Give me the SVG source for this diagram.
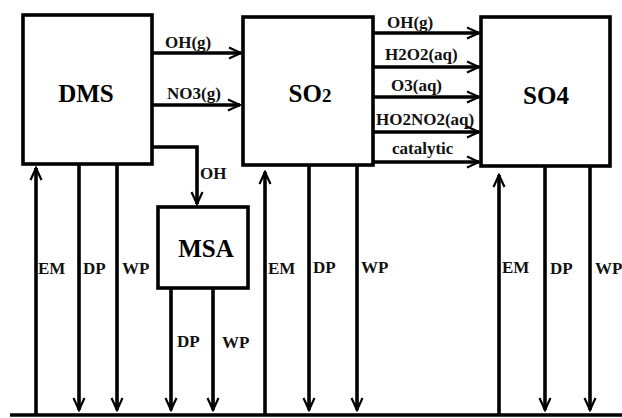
<svg xmlns="http://www.w3.org/2000/svg" width="622" height="418" viewBox="0 0 622 418">
  <style>
    .box { fill: #fff; stroke: #000; stroke-width: 3.6; }
    .title { font-family: "Liberation Serif", "Times New Roman", serif; font-weight: bold; font-size: 25px; fill: #000; text-anchor: middle; }
    .lbl { font-family: "Liberation Serif", "Times New Roman", serif; font-weight: bold; font-size: 17px; fill: #111; }
    .flow { fill: none; stroke: #000; stroke-width: 3.6; }
    .flowhead { fill: none; stroke: #000; stroke-width: 3.6; marker-end: url(#chev); }
  </style>
  <defs>
    <marker id="chev" markerUnits="userSpaceOnUse" viewBox="-14 -8 16 16" refX="0" refY="0" markerWidth="16" markerHeight="16" orient="auto">
      <polyline points="-12,-5.5 0,0 -12,5.5" fill="none" stroke="#000" stroke-width="2.2" stroke-linejoin="miter"/>
    </marker>
  </defs>

  <rect width="622" height="418" fill="#fff"/>

  <!-- species boxes -->
  <g id="dms">
    <rect class="box" x="23" y="15" width="129" height="149"/>
    <text class="title" x="86" y="102">DMS</text>
  </g>
  <g id="so2">
    <rect class="box" x="243" y="17" width="130" height="148"/>
    <text class="title" x="310" y="102">SO<tspan font-size="19">2</tspan></text>
  </g>
  <g id="so4">
    <rect class="box" x="481" y="17" width="129" height="149"/>
    <text class="title" x="546" y="104">SO4</text>
  </g>
  <g id="msa">
    <rect class="box" x="158" y="207" width="90" height="81"/>
    <text class="title" x="206" y="257">MSA</text>
  </g>

  <!-- fluxes between species, emission, deposition -->
  <g id="connectors">
    <!-- ground surface -->
    <line class="flow" x1="10" y1="415" x2="622" y2="415" stroke-width="4"/>

    <!-- DMS oxidation -->
    <line class="flowhead" x1="152" y1="53" x2="241" y2="53"/>
    <text class="lbl" x="165" y="48">OH(g)</text>
    <line class="flowhead" x1="152" y1="105" x2="240" y2="105"/>
    <text class="lbl" x="167" y="99">NO3(g)</text>
    <polyline class="flowhead" points="152,147 197,147 197,204"/>
    <text class="lbl" x="200" y="179">OH</text>

    <!-- SO2 oxidation pathways -->
    <line class="flowhead" x1="373" y1="33" x2="479" y2="33"/>
    <text class="lbl" x="387" y="28">OH(g)</text>
    <line class="flowhead" x1="373" y1="67" x2="479" y2="67"/>
    <text class="lbl" x="385" y="60">H2O2(aq)</text>
    <line class="flowhead" x1="373" y1="97" x2="479" y2="97"/>
    <text class="lbl" x="391" y="91">O3(aq)</text>
    <line class="flowhead" x1="373" y1="132" x2="479" y2="132"/>
    <text class="lbl" x="376" y="125">HO2NO2(aq)</text>
    <line class="flowhead" x1="373" y1="162" x2="479" y2="162"/>
    <text class="lbl" x="392" y="154">catalytic</text>

    <!-- DMS surface exchange -->
    <line class="flowhead" x1="36" y1="415" x2="36" y2="168"/>
    <text class="lbl" x="38" y="274">EM</text>
    <line class="flowhead" x1="79" y1="164" x2="79" y2="410"/>
    <text class="lbl" x="83" y="274">DP</text>
    <line class="flowhead" x1="117" y1="164" x2="117" y2="410"/>
    <text class="lbl" x="122" y="274">WP</text>

    <!-- MSA deposition -->
    <line class="flowhead" x1="171" y1="288" x2="171" y2="410"/>
    <text class="lbl" x="177" y="347">DP</text>
    <line class="flowhead" x1="213" y1="288" x2="213" y2="410"/>
    <text class="lbl" x="222" y="348">WP</text>

    <!-- SO2 surface exchange -->
    <line class="flowhead" x1="265" y1="415" x2="265" y2="172"/>
    <text class="lbl" x="268" y="274">EM</text>
    <line class="flowhead" x1="309" y1="165" x2="309" y2="410"/>
    <text class="lbl" x="313" y="273">DP</text>
    <line class="flowhead" x1="357" y1="165" x2="357" y2="410"/>
    <text class="lbl" x="361" y="273">WP</text>

    <!-- SO4 surface exchange -->
    <line class="flowhead" x1="499" y1="415" x2="499" y2="175"/>
    <text class="lbl" x="502" y="273">EM</text>
    <line class="flowhead" x1="545" y1="166" x2="545" y2="410"/>
    <text class="lbl" x="550" y="274">DP</text>
    <line class="flowhead" x1="590" y1="166" x2="590" y2="410"/>
    <text class="lbl" x="595" y="274">WP</text>
  </g>
</svg>
